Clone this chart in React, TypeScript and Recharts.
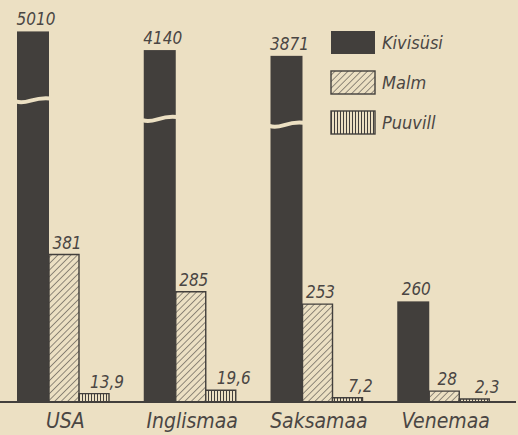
import React from 'react';
import { BarChart, Bar, XAxis, YAxis, LabelList, Legend } from 'recharts';

// ---- data ----
const countries = ['USA', 'Inglismaa', 'Saksamaa', 'Venemaa'];
const coalValues = [5010, 4140, 3871, 260];
const ironValues = [381, 285, 253, 28];
const cottonValues = [13.9, 19.6, 7.2, 2.3];
const seriesNames = ['Kivisüsi', 'Malm', 'Puuvill'];

// broken-axis compression for values above the break
const BREAK_LIMIT = 1000;
const BREAK_FLOOR = 680;
const BREAK_SLOPE = 0.0554;
const compress = (v: number) => (v > BREAK_LIMIT ? BREAK_FLOOR + BREAK_SLOPE * v : v);

const data = countries.map((c, i) => ({
  country: c,
  coal: coalValues[i],
  coalShown: compress(coalValues[i]),
  iron: ironValues[i],
  cotton: cottonValues[i],
}));

const PAPER = '#ece0c3';
const INK = '#423f3c';
const TEXT = '#4a4643';
const FONT = '"DejaVu Sans Condensed", "DejaVu Sans", sans-serif';

const fmt = (v: number) => String(v).replace('.', ',');

const Patterns = ({ p }: { p: string }) => (
  <defs>
    <pattern id={`${p}hatch`} patternUnits="userSpaceOnUse" width="4.6" height="4.6" patternTransform="rotate(45)">
      <rect width="4.6" height="4.6" fill={PAPER} />
      <line x1="0" y1="0" x2="0" y2="4.6" stroke={INK} strokeWidth="1.1" />
    </pattern>
    <pattern id={`${p}vert`} patternUnits="userSpaceOnUse" width="3" height="3">
      <rect width="3" height="3" fill={PAPER} />
      <line x1="1.5" y1="0" x2="1.5" y2="3" stroke={INK} strokeWidth="1" />
    </pattern>
  </defs>
);

const CoalShape = (props: any) => {
  const { x, y, width, height, payload } = props;
  const broken = payload && payload.coal > BREAK_LIMIT;
  const by = y + 68;
  return (
    <g>
      <rect x={x} y={y} width={width} height={height} fill={INK} />
      {broken && (
        <path
          d={`M ${x - 1} ${by + 2} C ${x + width * 0.3} ${by + 6}, ${x + width * 0.5} ${by - 3}, ${x + width + 1} ${by - 1}`}
          stroke={PAPER}
          strokeWidth={4}
          fill="none"
        />
      )}
    </g>
  );
};

const makeLabel = (dx: number) => (props: any) => {
  const { x, y, width, value } = props;
  return (
    <text
      x={Number(x) + Number(width) / 2 + dx}
      y={Number(y) - 6}
      textAnchor="middle"
      fontFamily={FONT}
      fontStyle="italic"
      fontSize={17}
      fill={TEXT}
    >
      {fmt(value)}
    </text>
  );
};

const Tick = (props: any) => {
  const { x, y, payload } = props;
  return (
    <text x={x + 2} y={y + 18} textAnchor="middle" fontFamily={FONT} fontStyle="italic" fontSize={21} fill={TEXT}>
      {payload.value}
    </text>
  );
};

const LegendContent = () => {
  const fills = [INK, 'url(#lghatch)', 'url(#lgvert)'];
  return (
    <svg width={160} height={110} style={{ display: 'block' }}>
      <Patterns p="lg" />
      {seriesNames.map((n, i) => (
        <g key={n}>
          <rect
            x={1}
            y={1 + i * 40}
            width={44}
            height={23}
            fill={fills[i]}
            stroke={INK}
            strokeWidth={i === 0 ? 0 : 1.4}
          />
          <text x={52} y={19 + i * 40} fontFamily={FONT} fontStyle="italic" fontSize={18} fill={TEXT}>
            {n}
          </text>
        </g>
      ))}
    </svg>
  );
};

export default function App() {
  return (
    <div style={{ position: 'absolute', left: 0, top: 0, width: 518, height: 435, background: PAPER }}>
      <BarChart
        width={518}
        height={435}
        data={data}
        margin={{ top: 15, right: 2, left: 0, bottom: 0 }}
        barGap={0}
      >
        <Patterns p="ch" />
        <XAxis
          dataKey="country"
          height={33}
          padding={{ left: 0, right: 9 }}
          tickLine={false}
          axisLine={{ stroke: INK, strokeWidth: 2 }}
          tick={<Tick />}
          interval={0}
        />
        <YAxis yAxisId="main" hide domain={[0, 1000]} />
        <YAxis yAxisId="cotton" hide domain={[0, 645]} />
        <Legend
          layout="vertical"
          align="center"
          verticalAlign="middle"
          content={<LegendContent />}
          wrapperStyle={{ left: 330, top: 30, width: 160, height: 110 }}
        />
        <Bar dataKey="coalShown" name={seriesNames[0]} yAxisId="main" barSize={32} fill={INK} shape={<CoalShape />} isAnimationActive={false}>
          <LabelList dataKey="coal" content={makeLabel(3)} />
        </Bar>
        <Bar dataKey="iron" name={seriesNames[1]} yAxisId="main" barSize={30} fill="url(#chhatch)" stroke={INK} strokeWidth={1.4} isAnimationActive={false}>
          <LabelList dataKey="iron" content={makeLabel(3)} />
        </Bar>
        <Bar dataKey="cotton" name={seriesNames[2]} yAxisId="cotton" barSize={30} minPointSize={3} fill="url(#chvert)" stroke={INK} strokeWidth={1.4} isAnimationActive={false}>
          <LabelList dataKey="cotton" content={makeLabel(13)} />
        </Bar>
      </BarChart>
    </div>
  );
}
